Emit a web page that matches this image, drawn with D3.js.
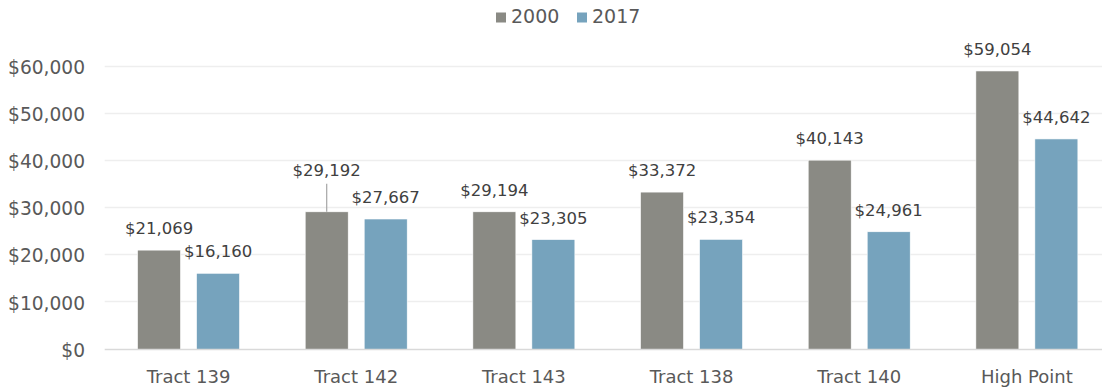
<!DOCTYPE html>
<html>
<head>
<meta charset="utf-8">
<script src="https://cdn.jsdelivr.net/npm/d3@7"></script>
<style>
  html, body { margin: 0; padding: 0; background: #fff; }
  svg { display: block; font-family: "DejaVu Sans", sans-serif; }
</style>
</head>
<body>
<svg id="chart" width="1102" height="388"></svg>
<script>
// Per-capita income by area, 2000 vs 2017
const categories = ["Tract 139", "Tract 142", "Tract 143", "Tract 138", "Tract 140", "High Point"];
const seriesNames = ["2000", "2017"];
const values2000 = [21069, 29192, 29194, 33372, 40143, 59054];
const values2017 = [16160, 27667, 23305, 23354, 24961, 44642];
const yTicks = [0, 10000, 20000, 30000, 40000, 50000, 60000];

const colors = { "2000": "#8a8a84", "2017": "#76a3bd" };

const svg = d3.select("#chart");
const W = 1102, H = 388;
const plot = { left: 104.7, right: 1110.7, top: 66.5, bottom: 349.5 };

const seriesValues = { "2000": values2000, "2017": values2017 };
const rows = categories.map((c, i) => ({
  category: c,
  items: seriesNames.map(s => ({ series: s, value: seriesValues[s][i], category: c }))
}));

const y = d3.scaleLinear().domain([0, 60000]).range([plot.bottom, plot.top]);
const x0 = d3.scaleBand().domain(categories).range([plot.left, plot.right]).padding(0);
const groupW = 102;
const x1 = d3.scaleBand().domain(seriesNames)
  .range([(x0.bandwidth() - groupW) / 2, (x0.bandwidth() + groupW) / 2])
  .paddingInner(0.2712).paddingOuter(0);

const fmt = v => "$" + d3.format(",")(v);

// horizontal gridlines
svg.append("g")
  .selectAll("line")
  .data(yTicks.filter(t => t > 0))
  .join("line")
  .attr("x1", plot.left).attr("x2", W)
  .attr("y1", d => Math.round(y(d)) - 0.5).attr("y2", d => Math.round(y(d)) - 0.5)
  .attr("stroke", "#eeeeee").attr("stroke-width", 1.6);

// y axis labels
const yAxis = d3.axisLeft(y).tickValues(yTicks).tickFormat(fmt).tickSize(0).tickPadding(0);
const gy = svg.append("g").attr("transform", "translate(85,0)").call(yAxis);
gy.select(".domain").remove();
gy.selectAll("text")
  .attr("font-family", "DejaVu Sans, sans-serif")
  .attr("font-size", "18.6px")
  .attr("fill", "#595959")
  .attr("dy", "0.36em");

// bars
const groups = svg.append("g").selectAll("g")
  .data(rows)
  .join("g")
  .attr("transform", d => `translate(${x0(d.category)},0)`);

groups.selectAll("rect")
  .data(d => d.items)
  .join("rect")
  .attr("x", d => x1(d.series))
  .attr("width", x1.bandwidth())
  .attr("y", d => y(d.value))
  .attr("height", d => y(0) - y(d.value))
  .attr("fill", d => colors[d.series])
  .attr("stroke", "#ffffff")
  .attr("stroke-width", 0.6);

// baseline
svg.append("line")
  .attr("x1", plot.left).attr("x2", W)
  .attr("y1", plot.bottom).attr("y2", plot.bottom)
  .attr("stroke", "#d9d9d9").attr("stroke-width", 1.5);

// value labels; one label is lifted and tied back to its bar with a leader
const liftedLabels = [{ category: "Tract 142", series: "2000", lift: 20 }];
const labelGap = 16;

groups.each(function (row) {
  const g = d3.select(this);
  row.items.forEach(d => {
    const lifted = liftedLabels.find(l => l.category === d.category && l.series === d.series);
    const cx = x1(d.series) + x1.bandwidth() / 2;
    const baseY = y(d.value) - labelGap - (lifted ? lifted.lift : 0);
    if (lifted) {
      g.append("line")
        .attr("x1", cx).attr("x2", cx)
        .attr("y1", baseY + 8).attr("y2", y(d.value))
        .attr("stroke", "#a6a6a6").attr("stroke-width", 1.2);
    }
    g.append("text")
      .attr("x", cx)
      .attr("y", baseY)
      .attr("text-anchor", "middle")
      .attr("font-size", "16.5px")
      .attr("fill", "#404040")
      .text(fmt(d.value));
  });
});

// x axis labels
const xAxis = d3.axisBottom(x0).tickSize(0).tickPadding(0);
const gx = svg.append("g").attr("transform", `translate(0,${plot.bottom})`).call(xAxis);
gx.select(".domain").remove();
gx.selectAll("text")
  .attr("font-family", "DejaVu Sans, sans-serif")
  .attr("font-size", "18px")
  .attr("fill", "#595959")
  .attr("dy", null)
  .attr("y", 33);

// legend
const legend = svg.append("g");
const legendX = [496, 577];
seriesNames.forEach((s, i) => {
  legend.append("rect")
    .attr("x", legendX[i]).attr("y", 12.5)
    .attr("width", 10).attr("height", 10)
    .attr("fill", colors[s]);
  legend.append("text")
    .attr("x", legendX[i] + 15).attr("y", 23.3)
    .attr("font-size", "19px")
    .attr("fill", "#595959")
    .text(s);
});
</script>
</body>
</html>
